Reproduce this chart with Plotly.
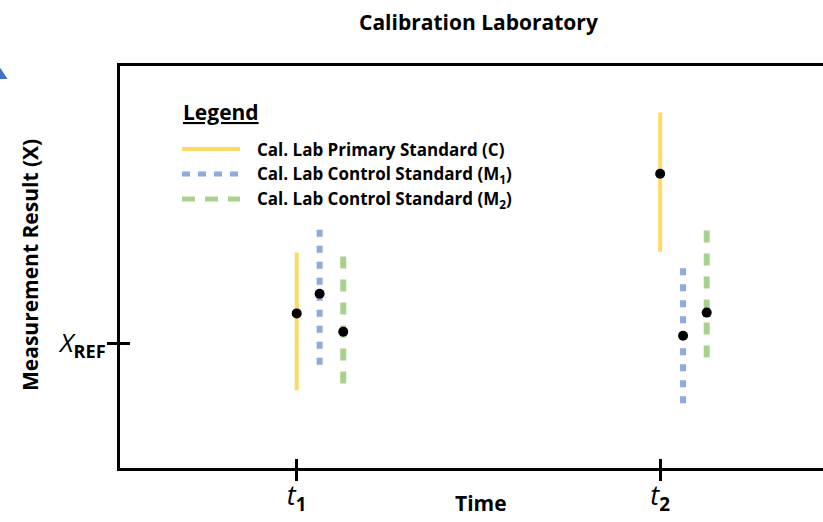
import plotly.graph_objects as go

# ---------------- data ----------------
series_names = [
    "Cal. Lab Primary Standard (C)",
    "Cal. Lab Control Standard (M<sub>1</sub>)",
    "Cal. Lab Control Standard (M<sub>2</sub>)",
]
time_ticks = [1.0, 2.0]
time_labels = ["<i>t</i><sub><b>1</b></sub>", "<i>t</i><sub><b>2</b></sub>"]
ref_tick = [0.0]
ref_label = ["<i>X</i><sub><b>REF</b></sub>"]

# x positions (time) for each series
c_x = [1.0, 2.0]
m1_x = [1.063, 2.063]
m2_x = [1.128, 2.128]
# measured values (relative to X_REF = 0)
c_val = [0.74, 4.23]
m1_val = [1.23, 0.18]
m2_val = [0.28, 0.76]
# uncertainty interval bounds
c_hi = [2.26, 5.76]
c_lo = [-1.18, 2.28]
m1_hi = [2.83, 1.87]
m1_lo = [-0.59, -1.58]
m2_hi = [2.16, 2.81]
m2_lo = [-1.18, -0.53]

x_range = [0.5138, 2.448]
y_range = [-3.125, 6.925]

# ---------------- style ----------------
FONT = "Open Sans"
colors = ["#FFD966", "#8FAADC", "#A9D18E"]
dashes = ["solid", "7px,9px", "12px,11px"]
widths = [4, 6, 6]

fig = go.Figure()

def bars(xs, his, los):
    X, Y = [], []
    for x, h, l in zip(xs, his, los):
        X += [x, x, None]
        Y += [h, l, None]
    return X, Y

for (xs, his, los), col, dsh, w in zip(
    [(c_x, c_hi, c_lo), (m1_x, m1_hi, m1_lo), (m2_x, m2_hi, m2_lo)],
    colors, dashes, widths,
):
    X, Y = bars(xs, his, los)
    fig.add_trace(go.Scatter(x=X, y=Y, mode="lines",
                             line=dict(color=col, width=w, dash=dsh),
                             showlegend=False, hoverinfo="skip"))

fig.add_trace(go.Scatter(x=c_x + m1_x + m2_x, y=c_val + m1_val + m2_val,
                         mode="markers", marker=dict(color="black", size=10),
                         showlegend=False))

# ---------------- manual legend ----------------
L = 120; W = 703; B = 468; H = 402
def px(v): return (v - L) / W
def py(v): return (B - v) / H

leg_y = [149, 174, 199]
leg_dash = ["solid", "8px,8px", "13px,10px"]
leg_w = [4, 5, 5]
for name, col, dsh, lw, yy in zip(series_names, colors, leg_dash, leg_w, leg_y):
    fig.add_shape(type="line", xref="paper", yref="paper",
                  x0=px(182), x1=px(240), y0=py(yy), y1=py(yy),
                  line=dict(color=col, width=lw, dash=dsh))
    fig.add_annotation(x=px(255), y=py(yy), xref="paper", yref="paper",
                       text="<b>" + name + "</b>", showarrow=False,
                       xanchor="left", yanchor="middle",
                       font=dict(family=FONT, size=17, color="black"))

fig.add_annotation(x=px(181), y=py(112), xref="paper", yref="paper",
                   text="<b><u>Legend</u></b>", showarrow=False,
                   xanchor="left", yanchor="middle",
                   font=dict(family=FONT, size=21, color="black"))

# titles
fig.add_annotation(x=px(478), y=py(22), xref="paper", yref="paper",
                   text="<b>Calibration Laboratory</b>", showarrow=False,
                   xanchor="center", yanchor="middle",
                   font=dict(family=FONT, size=21, color="black"))
fig.add_annotation(x=px(481), y=py(503), xref="paper", yref="paper",
                   text="<b>Time</b>", showarrow=False,
                   xanchor="center", yanchor="middle",
                   font=dict(family=FONT, size=21, color="black"))
fig.add_annotation(x=px(30), y=py(265), xref="paper", yref="paper",
                   text="<b>Measurement Result (X)</b>", showarrow=False,
                   textangle=-90, xanchor="center", yanchor="middle",
                   font=dict(family=FONT, size=21, color="black"))

# small blue corner triangle
fig.add_shape(type="path", xref="paper", yref="paper",
              path=f"M {px(-3)},{py(63)} L {px(7.5)},{py(79)} L {px(-3)},{py(79)} Z",
              fillcolor="#4472C4", line=dict(width=0))

# ---------------- axes ----------------
fig.update_layout(
    width=823, height=522,
    margin=dict(l=120, r=0, t=66, b=54),
    paper_bgcolor="white", plot_bgcolor="white",
    font=dict(family=FONT, color="black"),
    showlegend=False,
    xaxis=dict(range=x_range, showgrid=False, zeroline=False,
               showline=True, linecolor="black", linewidth=3, mirror=True,
               tickmode="array", tickvals=time_ticks, ticktext=time_labels,
               ticks="outside", ticklen=10, tickwidth=3, tickcolor="black",
               ticklabelstandoff=-8,
               tickfont=dict(family=FONT, size=27, color="black")),
    xaxis2=dict(range=x_range, overlaying="x", anchor="y", side="bottom",
                showgrid=False, zeroline=False, showline=False,
                tickmode="array", tickvals=time_ticks, showticklabels=False,
                ticks="inside", ticklen=9, tickwidth=3, tickcolor="black"),
    yaxis=dict(range=y_range, showgrid=False, zeroline=False,
               showline=True, linecolor="black", linewidth=3,
               tickmode="array", tickvals=ref_tick, ticktext=ref_label,
               ticks="outside", ticklen=10, tickwidth=3, tickcolor="black",
               ticklabelstandoff=-4,
               tickfont=dict(family=FONT, size=26, color="black")),
    yaxis2=dict(range=y_range, overlaying="y", anchor="x", side="left",
                showgrid=False, zeroline=False, showline=False,
                tickmode="array", tickvals=ref_tick, showticklabels=False,
                ticks="inside", ticklen=10, tickwidth=3, tickcolor="black"),
)
# dummy trace so the overlay axes render
fig.add_trace(go.Scatter(x=[None], y=[None], xaxis="x2", yaxis="y2",
                         showlegend=False, hoverinfo="skip"))

fig.write_html("out.html", config={"displayModeBar": False},
               post_script="document.body.style.margin='0px';")
